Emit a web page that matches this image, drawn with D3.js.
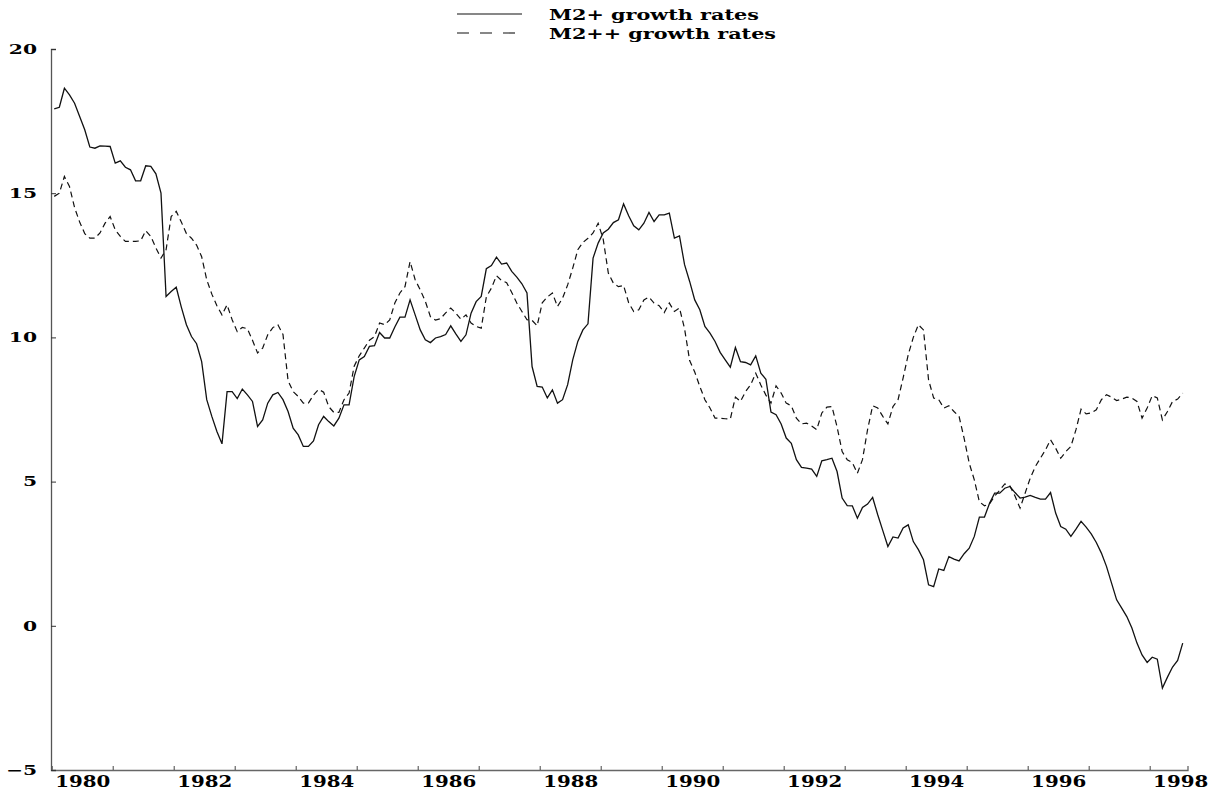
<!DOCTYPE html>
<html>
<head>
<meta charset="utf-8">
<script src="https://cdn.jsdelivr.net/npm/d3@7"></script>
<style>
  body { margin: 0; background: #fff; }
  svg { display: block; }
  text { font-family: "DejaVu Serif", "Liberation Serif", serif; font-weight: bold; fill: #000; }
</style>
</head>
<body>
<svg id="chart" width="1219" height="791"></svg>
<script>
// Monthly year-over-year growth rates, January 1980 to July 1998 (percent)
const startYear = 1980;

const m2plus = [
  17.92,17.98,18.64,18.41,18.12,17.66,17.2,16.6,16.56,16.64,
  16.63,16.62,16.04,16.12,15.9,15.81,15.43,15.43,15.95,15.93,
  15.67,15.0,11.42,11.59,11.74,11.05,10.44,10.03,9.78,9.16,
  7.84,7.26,6.74,6.31,8.12,8.12,7.88,8.21,8.01,7.78,
  6.91,7.14,7.72,8.01,8.09,7.84,7.43,6.85,6.62,6.22,
  6.22,6.41,6.97,7.26,7.08,6.93,7.2,7.66,7.66,8.64,
  9.22,9.34,9.69,9.71,10.17,9.98,9.98,10.36,10.7,10.7,
  11.3,10.78,10.26,9.92,9.82,9.98,10.03,10.1,10.4,10.12,
  9.86,10.09,10.84,11.24,11.42,12.38,12.49,12.78,12.54,12.58,
  12.29,12.09,11.86,11.54,8.99,8.3,8.28,7.9,8.18,7.72,
  7.84,8.36,9.22,9.86,10.26,10.47,12.75,13.27,13.62,13.75,
  13.98,14.08,14.63,14.22,13.87,13.73,13.96,14.33,14.02,14.25,
  14.25,14.31,13.44,13.52,12.52,11.94,11.3,10.96,10.38,10.15,
  9.86,9.48,9.22,8.97,9.65,9.16,9.13,9.05,9.36,8.76,
  8.55,7.41,7.32,7.0,6.51,6.33,5.76,5.49,5.47,5.43,
  5.18,5.72,5.76,5.81,5.35,4.43,4.17,4.16,3.73,4.1,
  4.22,4.45,3.85,3.3,2.75,3.08,3.04,3.39,3.5,2.92,
  2.64,2.29,1.42,1.36,1.97,1.92,2.4,2.31,2.25,2.5,
  2.69,3.1,3.77,3.77,4.25,4.6,4.6,4.77,4.83,4.62,
  4.43,4.46,4.52,4.45,4.39,4.39,4.62,3.91,3.44,3.35,
  3.1,3.35,3.62,3.42,3.19,2.89,2.52,2.06,1.48,0.9,
  0.61,0.32,-0.08,-0.6,-1.01,-1.27,-1.09,-1.16,-2.16,-1.78,
  -1.43,-1.2,-0.6
];

const m2plusplus = [
  14.89,15.0,15.58,15.23,14.5,14.0,13.6,13.44,13.44,13.62,
  13.96,14.19,13.73,13.5,13.33,13.33,13.33,13.35,13.7,13.5,
  13.1,12.75,13.04,14.19,14.37,14.0,13.6,13.44,13.2,12.8,
  12.0,11.5,11.1,10.78,11.13,10.61,10.2,10.35,10.3,9.9,
  9.46,9.63,10.09,10.34,10.44,10.1,8.5,8.12,7.95,7.72,
  7.72,8.0,8.2,8.1,7.6,7.4,7.4,7.84,8.07,9.0,
  9.36,9.63,9.9,10.03,10.5,10.44,10.61,11.19,11.54,11.76,
  12.63,12.0,11.65,11.25,10.72,10.6,10.65,10.85,11.02,10.84,
  10.63,10.78,10.5,10.38,10.32,11.4,11.71,12.14,11.97,11.9,
  11.56,11.19,10.9,10.61,10.59,10.4,11.2,11.4,11.54,11.07,
  11.36,11.82,12.4,13.04,13.29,13.44,13.62,13.96,13.4,12.23,
  11.88,11.76,11.8,11.2,10.9,10.96,11.3,11.4,11.19,11.1,
  10.86,11.19,10.9,11.02,10.3,9.2,8.8,8.3,7.84,7.55,
  7.2,7.2,7.18,7.17,7.93,7.78,8.12,8.36,8.76,8.35,
  8.0,7.72,8.32,8.07,7.72,7.63,7.2,7.0,7.03,6.93,
  6.8,7.38,7.58,7.6,6.9,6.04,5.76,5.66,5.29,5.76,
  6.8,7.63,7.55,7.26,7.0,7.6,7.84,8.6,9.4,10.0,
  10.44,10.26,8.53,7.9,7.84,7.55,7.63,7.43,7.26,6.5,
  5.64,5.06,4.3,4.16,4.23,4.5,4.7,4.92,4.85,4.5,
  4.08,4.6,5.12,5.52,5.81,6.1,6.45,6.16,5.81,6.04,
  6.22,6.8,7.51,7.35,7.38,7.49,7.84,8.01,7.93,7.81,
  7.86,7.93,7.9,7.78,7.2,7.55,7.98,7.9,7.14,7.43,
  7.78,7.86,8.07
];

const seriesLabels = ["M2+ growth rates", "M2++ growth rates"];
const yTickValues = [-5, 0, 5, 10, 15, 20];
const yearTicks = d3.range(1981, 1999);          // year boundaries
const labelYears = d3.range(1980, 1999, 2);      // labelled years

const svg = d3.select("#chart");

const x = d3.scaleLinear().domain([1980, 1998.62]).range([51.7, 1187.5]);
const y = d3.scaleLinear().domain([-5, 20]).range([770, 49]);

// each monthly observation sits at the middle of its month
const toPoints = vals => vals.map((v, i) => ({ t: startYear + (i + 0.5) / 12, v }));

// horizontally widen a text element while keeping its anchor point
function widen(sel, k) {
  sel.each(function () {
    const w = this.getComputedTextLength();
    d3.select(this).attr("textLength", w * k).attr("lengthAdjust", "spacingAndGlyphs");
  });
}

// ---- axes ----
const xAxis = svg.append("g").attr("transform", `translate(0,${y(-5)})`)
  .call(d3.axisBottom(x).tickValues(yearTicks).tickSize(-4).tickFormat(""));
xAxis.select(".domain").attr("stroke", "#666").attr("stroke-width", 1.3);
xAxis.selectAll(".tick line").attr("stroke", "#444");

const xLabels = svg.append("g").attr("transform", `translate(0,${y(-5)})`)
  .call(d3.axisBottom(x).tickValues(labelYears.map(d => d + 0.5))
    .tickSize(0).tickPadding(5).tickFormat(d => String(Math.floor(d))));
xLabels.select(".domain").remove();
xLabels.selectAll("text").style("font-size", "16.5px").attr("fill", "#000").call(widen, 1.2);

const yAxis = svg.append("g").attr("transform", `translate(${x(1980) - 0.7},0)`)
  .call(d3.axisLeft(y).tickValues(yTickValues).tickSize(-5).tickPadding(14));
yAxis.select(".domain").attr("stroke", "#555").attr("stroke-width", 1.3);
yAxis.selectAll(".tick line").attr("stroke", "#333");
yAxis.selectAll("text").style("font-size", "13.5px").attr("fill", "#000").call(widen, 1.5);

// ---- series ----
const line = d3.line().x(d => x(d.t)).y(d => y(d.v));

svg.append("path").datum(toPoints(m2plusplus))
  .attr("d", line).attr("fill", "none").attr("stroke", "#111")
  .attr("stroke-width", 1.2).attr("stroke-dasharray", "6,4");

svg.append("path").datum(toPoints(m2plus))
  .attr("d", line).attr("fill", "none").attr("stroke", "#111")
  .attr("stroke-width", 1.3);

// ---- legend ----
const legend = svg.append("g");
const legendRows = [
  { label: seriesLabels[0], dash: null, yLine: 14, yText: 20, width: 210 },
  { label: seriesLabels[1], dash: "12,11", yLine: 33, yText: 39, width: 227 }
];
legendRows.forEach(r => {
  legend.append("line").attr("x1", 457).attr("x2", 522)
    .attr("y1", r.yLine).attr("y2", r.yLine)
    .attr("stroke", "#111").attr("stroke-width", 1.1)
    .attr("stroke-dasharray", r.dash);
  legend.append("text").attr("x", 549).attr("y", r.yText)
    .style("font-size", "15px").text(r.label)
    .attr("textLength", r.width).attr("lengthAdjust", "spacingAndGlyphs");
});
</script>
</body>
</html>
